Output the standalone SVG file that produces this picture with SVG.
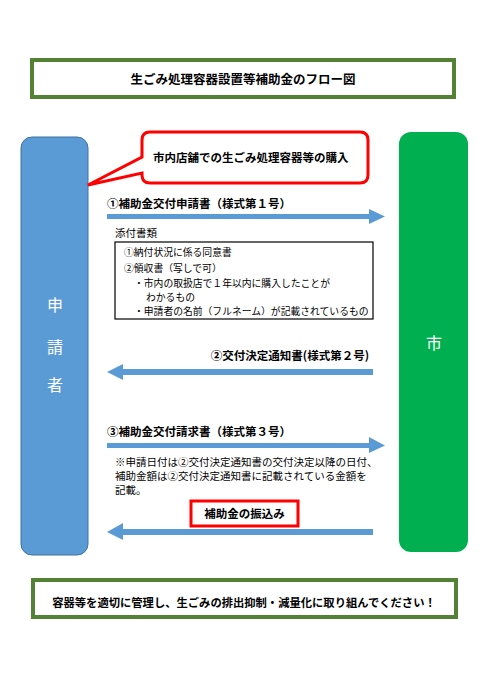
<svg xmlns="http://www.w3.org/2000/svg" width="490" height="693" viewBox="0 0 490 693">
<defs>
<style>
text{font-family:"Noto Sans CJK JP","Noto Sans CJK SC",sans-serif;fill:#000;}
.b{font-weight:bold;}
.frame{fill:#fff;stroke:#548235;stroke-width:4;}
.arrow{fill:#5B9BD5;stroke:none;}
.red{fill:#fff;stroke:#FF0000;stroke-width:3;}
.w{fill:#fff;font-size:16px;text-anchor:middle;}
.s{font-size:9.8px;}
</style>
</defs>
<rect width="490" height="693" fill="#fff"/>
<g id="title">
<rect class="frame" x="32" y="60" width="422" height="37"/>
<text class="b" x="243" y="84" font-size="12.5" text-anchor="middle">生ごみ処理容器設置等補助金のフロー図</text>
</g>
<g id="applicant">
<rect x="21" y="137" width="67" height="418" rx="11" fill="#5B9BD5" stroke="#41719C" stroke-width="1"/>
<text class="w" x="55" y="311">申</text>
<text class="w" x="55" y="353">請</text>
<text class="w" x="55" y="391">者</text>
</g>
<g id="city">
<rect x="399" y="132" width="69" height="420" rx="12" fill="#00B050"/>
<text class="w" x="434" y="349">市</text>
</g>
<g id="callout">
<path class="red" d="M150,132 H360 Q368,132 368,140 V175 Q368,183 360,183 H150 Q142,183 142,175 V173 L88,185 L142,157 V140 Q142,132 150,132 Z"/>
<text class="b" x="153" y="162" font-size="11.5">市内店舗での生ごみ処理容器等の購入</text>
</g>
<g id="connectors">
<path class="arrow" d="M107,214 H369 V209 L385,216.5 L369,224 V219 H107 Z"/>
<path class="arrow" d="M373,369 H123 V364 L107,372 L123,380 V375 H373 Z"/>
<path class="arrow" d="M107,443 H369 V437 L385,445.5 L369,453 V448 H107 Z"/>
<path class="arrow" d="M373,529 H123 V523 L107,532 L123,540 V535 H373 Z"/>
</g>
<g id="step1">
<text class="b" x="107" y="208" font-size="11.5">①補助金交付申請書（様式第１号）</text>
<text x="115" y="237" font-size="10.5">添付書類</text>
<rect x="115" y="242" width="258" height="77" fill="#fff" stroke="#000" stroke-width="1.2"/>
<text class="s" x="124" y="256">①納付状況に係る同意書</text>
<text class="s" x="124" y="272">②領収書（写しで可）</text>
<text class="s" x="134" y="287">・市内の取扱店で１年以内に購入したことが</text>
<text class="s" x="146" y="301">わかるもの</text>
<text class="s" x="134" y="315">・申請者の名前（フルネーム）が記載されているもの</text>
</g>
<g id="step2">
<text class="b" x="369" y="360" font-size="11.5" text-anchor="end">②交付決定通知書(様式第２号)</text>
</g>
<g id="step3">
<text class="b" x="107" y="436" font-size="11.5">③補助金交付請求書（様式第３号）</text>
<text x="115" y="466" font-size="10.5">※申請日付は②交付決定通知書の交付決定以降の日付、</text>
<text x="115" y="480" font-size="10.5">補助金額は②交付決定通知書に記載されている金額を</text>
<text x="115" y="494" font-size="10.5">記載。</text>
</g>
<g id="payment">
<rect class="red" x="191" y="501" width="107" height="25"/>
<text class="b" x="244.5" y="518" font-size="11.5" text-anchor="middle">補助金の振込み</text>
</g>
<g id="footer">
<rect class="frame" x="33" y="580" width="423" height="37"/>
<text class="b" x="244" y="607" font-size="11.3" text-anchor="middle">容器等を適切に管理し、生ごみの排出抑制・減量化に取り組んでください！</text>
</g>
</svg>
